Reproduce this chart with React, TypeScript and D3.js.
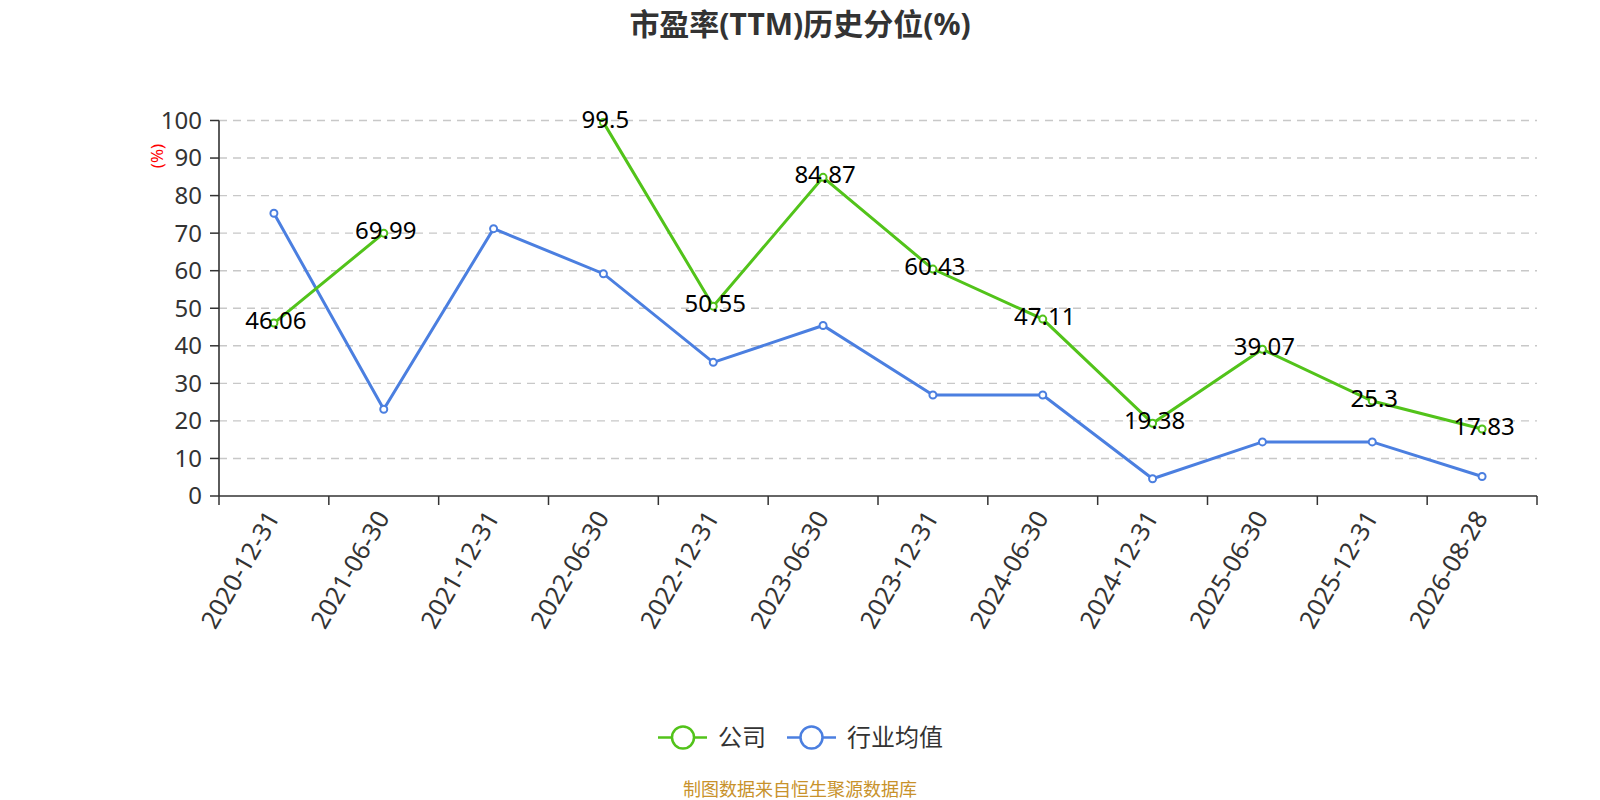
import React from "react";
import * as d3 from "d3";

const categories = ["2020-12-31","2021-06-30","2021-12-31","2022-06-30","2022-12-31","2023-06-30","2023-12-31","2024-06-30","2024-12-31","2025-06-30","2025-12-31","2026-08-28"];
const companyValues: (number | null)[] = [46.06, 69.99, null, 99.5, 50.55, 84.87, 60.43, 47.11, 19.38, 39.07, 25.3, 17.83];
const industryValues: (number | null)[] = [75.3, 23.1, 71.2, 59.2, 35.6, 45.4, 26.9, 26.9, 4.6, 14.4, 14.4, 5.2];
const yTicks = [0, 10, 20, 30, 40, 50, 60, 70, 80, 90, 100];

const W = 1600, H = 800;
const left = 219, right = 1537, top = 120.5, bottom = 496;
const GREEN = "#52c31a";
const BLUE = "#4b7fe0";
const FONT = "'Noto Sans', 'Noto Sans CJK SC', sans-serif";

export default function App() {
  const x = d3.scaleBand<string>().domain(categories).range([left, right]);
  const y = d3.scaleLinear().domain([0, 100]).range([bottom, top]);
  const cx = (c: string) => (x(c) as number) + x.bandwidth() / 2;
  const line = d3.line<number | null>()
    .defined((d) => d != null)
    .x((_, i) => cx(categories[i]))
    .y((d) => y(d as number));
  const boundaries = [...categories.map((c) => x(c) as number), right];

  return (
    <svg width={W} height={H} style={{ display: "block", position: "absolute", left: 0, top: 0 }} fontFamily={FONT}>
      <rect width={W} height={H} fill="#fff" />
      <text x={800} y={35} textAnchor="middle" fontSize={30} fontWeight="bold" fill="#333">市盈率(TTM)历史分位(%)</text>
      {yTicks.map((t) => (
        <g key={t}>
          {t !== 0 && <line x1={left} x2={right} y1={y(t)} y2={y(t)} stroke="#c8c8c8" strokeDasharray="8,6" strokeWidth={1.4} />}
          <line x1={left - 9} x2={left} y1={y(t)} y2={y(t)} stroke="#333" strokeWidth={1.5} />
          <text x={left - 17} y={y(t)} dy="0.35em" textAnchor="end" fontSize={24} fill="#333">{t}</text>
        </g>
      ))}
      <text transform={`translate(157,156) rotate(-90)`} textAnchor="middle" dy="0.35em" fontSize={17} fill="red">(%)</text>
      <line x1={left} x2={left} y1={top} y2={bottom} stroke="#333" strokeWidth={1.6} />
      <line x1={left} x2={right} y1={bottom} y2={bottom} stroke="#333" strokeWidth={1.6} />
      {boundaries.map((b, i) => (
        <line key={i} x1={b} x2={b} y1={bottom} y2={bottom + 9} stroke="#333" strokeWidth={1.5} />
      ))}
      {categories.map((c) => (
        <text key={c} transform={`translate(${cx(c) - 1},${bottom + 17}) rotate(-60)`} textAnchor="end" dy="0.35em" fontSize={25} fill="#333">{c}</text>
      ))}
      <path d={line(industryValues) || ""} fill="none" stroke={BLUE} strokeWidth={3} />
      <path d={line(companyValues) || ""} fill="none" stroke={GREEN} strokeWidth={3} />
      {industryValues.map((v, i) => v == null ? null : (
        <circle key={"b" + i} cx={cx(categories[i])} cy={y(v)} r={3.5} fill="#fff" stroke={BLUE} strokeWidth={2} />
      ))}
      {companyValues.map((v, i) => v == null ? null : (
        <circle key={"g" + i} cx={cx(categories[i])} cy={y(v)} r={3.5} fill="#fff" stroke={GREEN} strokeWidth={2} />
      ))}
      {companyValues.map((v, i) => v == null ? null : (
        <text key={"l" + i} x={cx(categories[i]) + 2} y={y(v) - 2.5} dy="0.35em" textAnchor="middle" fontSize={24} fill="#000">{v}</text>
      ))}
      <g>
        <line x1={658} x2={707} y1={737.5} y2={737.5} stroke={GREEN} strokeWidth={2.5} />
        <circle cx={683} cy={737.5} r={11} fill="#fff" stroke={GREEN} strokeWidth={2.5} />
        <text x={718} y={737.5} dy="0.35em" fontSize={24} fill="#333">公司</text>
        <line x1={787} x2={836} y1={737.5} y2={737.5} stroke={BLUE} strokeWidth={2.5} />
        <circle cx={811.5} cy={737.5} r={11} fill="#fff" stroke={BLUE} strokeWidth={2.5} />
        <text x={847} y={737.5} dy="0.35em" fontSize={24} fill="#333">行业均值</text>
      </g>
      <text x={800} y={790} dy="0.35em" textAnchor="middle" fontSize={18} fill="#c8922b">制图数据来自恒生聚源数据库</text>
    </svg>
  );
}
